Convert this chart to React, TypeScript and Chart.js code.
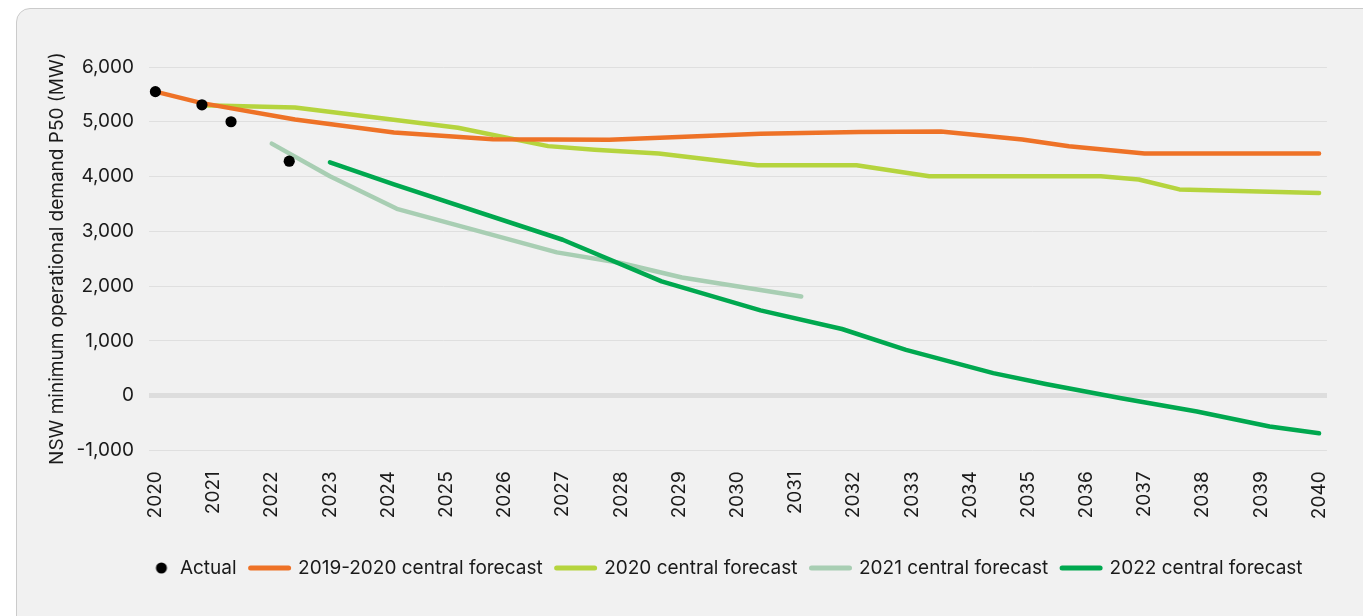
import React, { useEffect, useRef } from "react";
import { Chart, registerables } from "chart.js";

Chart.register(...registerables);

// ---- data ----
const yearTicks = [2020, 2021, 2022, 2023, 2024, 2025, 2026, 2027, 2028, 2029, 2030, 2031, 2032, 2033, 2034, 2035, 2036, 2037, 2038, 2039, 2040];

const actualYears = [2020, 2020.8, 2021.3, 2022.3];
const actualValues = [5550, 5310, 5000, 4280];

const f1920Years = [2020, 2020.8, 2022.4, 2024.1, 2025.8, 2027.8, 2030.4, 2032.1, 2033.5, 2034.9, 2035.7, 2037.0, 2040];
const f1920Values = [5550, 5340, 5040, 4805, 4680, 4670, 4780, 4815, 4820, 4675, 4552, 4420, 4420];

const f2020Years = [2020.8, 2022.4, 2025.2, 2026.75, 2027.55, 2028.65, 2030.35, 2032.05, 2033.3, 2036.25, 2036.9, 2037.6, 2040];
const f2020Values = [5300, 5260, 4890, 4555, 4490, 4420, 4205, 4205, 4005, 4005, 3945, 3765, 3700];

const f2021Years = [2022.0, 2023.0, 2024.15, 2026.9, 2028.0, 2029.05, 2031.1];
const f2021Values = [4600, 4005, 3410, 2615, 2420, 2155, 1810];

const f2022Years = [2023.0, 2024.1, 2027.0, 2028.7, 2030.4, 2031.8, 2032.9, 2034.4, 2035.3, 2036.6, 2037.9, 2039.15, 2040];
const f2022Values = [4260, 3855, 2845, 2085, 1555, 1215, 835, 410, 210, -50, -290, -565, -690];

const seriesLabels = ["Actual", "2019-2020 central forecast", "2020 central forecast", "2021 central forecast", "2022 central forecast"];
const seriesColors = ["#000000", "#ee7227", "#b5d43e", "#a8ceb3", "#00a84f"];

const yTitle = "NSW minimum operational demand P50 (MW)";

const zip = (xs: number[], ys: number[]) => xs.map((x, i) => ({ x, y: ys[i] }));

const FONT = "Inter, 'Noto Sans', sans-serif";
const TEXT = "#1a1a1a";

const LEGEND_BOX = 38;
const LEGEND_DX = 46;

const legendShift = {
  id: "legendShift",
  afterLayout(chart: any) {
    const l = chart.legend;
    if (l) {
      l.left += LEGEND_DX;
      l.right += LEGEND_DX;
    }
  },
};

export default function App() {
  const ref = useRef<HTMLCanvasElement | null>(null);

  useEffect(() => {
    if (!ref.current) return;

    const dot = document.createElement("canvas");
    dot.width = LEGEND_BOX;
    dot.height = 12;
    const dctx = dot.getContext("2d")!;
    dctx.fillStyle = "#000";
    dctx.beginPath();
    dctx.arc(29.0, 6, 5.5, 0, Math.PI * 2);
    dctx.fill();

    const lineDs = (i: number, xs: number[], ys: number[], order: number) => ({
      type: "line" as const,
      label: seriesLabels[i],
      data: zip(xs, ys),
      borderColor: seriesColors[i],
      backgroundColor: seriesColors[i],
      borderWidth: 4.5,
      borderCapStyle: "round" as const,
      borderJoinStyle: "round" as const,
      pointRadius: 0,
      pointHoverRadius: 0,
      tension: 0,
      fill: false,
      order,
    });

    const chart = new Chart(ref.current, {
      type: "line",
      data: {
        datasets: [
          {
            type: "line",
            label: seriesLabels[0],
            data: zip(actualYears, actualValues),
            showLine: false,
            pointRadius: 5.6,
            pointHoverRadius: 5.6,
            pointBackgroundColor: "#000",
            pointBorderWidth: 0,
            borderColor: "#000",
            backgroundColor: "#000",
            order: 0,
          },
          lineDs(1, f1920Years, f1920Values, 2),
          lineDs(2, f2020Years, f2020Values, 3),
          lineDs(3, f2021Years, f2021Values, 4),
          lineDs(4, f2022Years, f2022Values, 1),
        ] as any,
      },
      plugins: [legendShift],
      options: {
        responsive: false,
        animation: false,
        devicePixelRatio: 1,
        layout: { padding: { left: 0, right: 20, top: 67, bottom: 28.5 } },
        plugins: {
          tooltip: { enabled: false },
          legend: {
            position: "bottom",
            labels: {
              usePointStyle: true,
              pointStyleWidth: LEGEND_BOX,
              padding: 14,
              color: TEXT,
              font: { family: FONT, size: 19 },
              generateLabels: (c: any) =>
                c.data.datasets.map((ds: any, i: number) => ({
                  text: ds.label,
                  datasetIndex: i,
                  fillStyle: seriesColors[i],
                  strokeStyle: seriesColors[i],
                  lineWidth: i === 0 ? 0 : 5,
                  lineCap: "round",
                  pointStyle: i === 0 ? dot : "line",
                  hidden: false,
                  fontColor: TEXT,
                })),
            },
          },
        },
        scales: {
          x: {
            type: "linear",
            min: 2019.89,
            max: 2040.136,
            afterBuildTicks: (axis: any) => {
              axis.ticks = yearTicks.map((v) => ({ value: v }));
            },
            afterFit: (s: any) => {
              s.height = 94.2;
            },
            grid: { display: false, drawTicks: false },
            border: { display: false },
            ticks: {
              autoSkip: false,
              minRotation: 90,
              maxRotation: 90,
              padding: 21,
              color: TEXT,
              font: { family: FONT, size: 19 },
              callback: (v: any) => String(v),
            },
          },
          y: {
            min: -1000,
            max: 6000,
            afterFit: (s: any) => {
              s.width = 149;
            },
            border: { display: false },
            grid: {
              drawTicks: false,
              color: (ctx: any) => (ctx.tick && ctx.tick.value === 0 ? "#dddddd" : "#dfdfdf"),
              lineWidth: (ctx: any) => (ctx.tick && ctx.tick.value === 0 ? 5 : 1),
            },
            ticks: {
              stepSize: 1000,
              padding: 15,
              color: TEXT,
              font: { family: FONT, size: 19 },
              callback: (v: any) => Number(v).toLocaleString("en-US"),
            },
            title: {
              display: true,
              text: yTitle,
              color: TEXT,
              font: { family: FONT, size: 19 },
              padding: { top: 45.6, bottom: 0 },
            },
          },
        },
      },
    });

    return () => chart.destroy();
  }, []);

  return (
    <div style={{ position: "fixed", inset: 0, overflow: "hidden", background: "#fff" }}>
      <div
        style={{
          position: "absolute",
          left: 16,
          top: 8,
          width: 1420,
          height: 700,
          border: "1px solid #cbcbcb",
          borderRadius: 14,
          background: "#f1f1f1",
          boxSizing: "border-box",
        }}
      />
      <canvas
        ref={ref}
        width={1363}
        height={616}
        style={{ position: "absolute", left: 0, top: 0, width: 1363, height: 616 }}
      />
    </div>
  );
}
